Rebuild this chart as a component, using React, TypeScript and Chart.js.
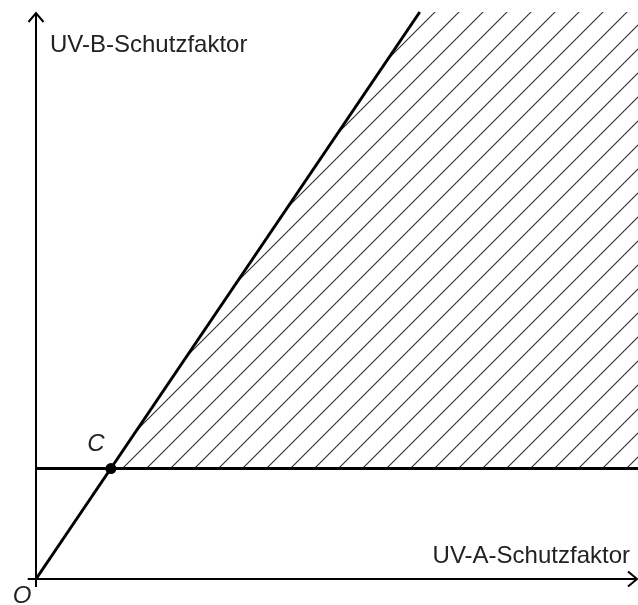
import React, { useEffect, useRef } from "react";
import { Chart, registerables } from "chart.js";

Chart.register(...registerables);

// Axis ranges (abstract units)
const xRange = [0, 8];
const yRange = [0, 7.7];

// Boundary line through origin and C
const diagonalX = [0, 5.1];
const diagonalY = [0, 7.7];

// Minimum UV-B protection line
const horizontalX = [0, 8];
const horizontalY = [1.5, 1.5];

// Point C
const pointCX = [0.995];
const pointCY = [1.5];

// Hatched (allowed) region outline, filled down to y = 1.5
const regionX = [0.995, 5.1, 8];
const regionY = [1.5, 7.7, 7.7];

const axisLabelX = "UV-A-Schutzfaktor";
const axisLabelY = "UV-B-Schutzfaktor";
const pointLabel = "C";
const originLabel = "O";

const zip = (xs: number[], ys: number[]) => xs.map((x, i) => ({ x, y: ys[i] }));

function makeHatch(): CanvasPattern | string {
  const c = document.createElement("canvas");
  c.width = 24;
  c.height = 24;
  const g = c.getContext("2d");
  if (!g) return "rgba(0,0,0,0.2)";
  g.strokeStyle = "#2a2a2a";
  g.lineWidth = 1.1;
  for (const k of [-9, 15, 39]) {
    g.beginPath();
    g.moveTo(k + 6, -6);
    g.lineTo(k - 30, 30);
    g.stroke();
  }
  const p = g.createPattern(c, "repeat");
  return p || "rgba(0,0,0,0.2)";
}

const decorPlugin = {
  id: "decor",
  beforeDatasetsDraw(chart: any) {
    const ctx = chart.ctx;
    const xs = chart.scales.x;
    const ys = chart.scales.y;
    const x0 = xs.getPixelForValue(0);
    const y0 = ys.getPixelForValue(0);
    const yTop = ys.getPixelForValue(yRange[1]) + 1;
    const xRight = xs.getPixelForValue(xRange[1]) - 1;
    ctx.save();
    ctx.strokeStyle = "#000";
    ctx.lineWidth = 2;
    ctx.lineCap = "butt";
    // y axis
    ctx.beginPath();
    ctx.moveTo(x0, ys.getPixelForValue(-0.11));
    ctx.lineTo(x0, yTop);
    ctx.stroke();
    ctx.beginPath();
    ctx.moveTo(x0 - 7.5, yTop + 9);
    ctx.lineTo(x0, yTop);
    ctx.lineTo(x0 + 7.5, yTop + 9);
    ctx.stroke();
    // x axis
    ctx.beginPath();
    ctx.moveTo(xs.getPixelForValue(-0.11), y0);
    ctx.lineTo(xRight, y0);
    ctx.stroke();
    ctx.beginPath();
    ctx.moveTo(xRight - 9, y0 - 7.5);
    ctx.lineTo(xRight, y0);
    ctx.lineTo(xRight - 9, y0 + 7.5);
    ctx.stroke();
    ctx.restore();
  },
  afterDraw(chart: any) {
    const ctx = chart.ctx;
    const xs = chart.scales.x;
    const ys = chart.scales.y;
    const x0 = xs.getPixelForValue(0);
    const y0 = ys.getPixelForValue(0);
    ctx.save();
    ctx.fillStyle = "#222";
    ctx.textBaseline = "alphabetic";
    ctx.font = "24px 'Liberation Sans', Arial, sans-serif";
    ctx.textAlign = "left";
    ctx.fillText(axisLabelY, x0 + 14, ys.getPixelForValue(yRange[1]) + 40);
    ctx.textAlign = "right";
    ctx.fillText(axisLabelX, xs.getPixelForValue(xRange[1]) - 8, y0 - 16);
    ctx.font = "italic 24px 'Liberation Sans', Arial, sans-serif";
    ctx.textAlign = "center";
    const cx = xs.getPixelForValue(pointCX[0]);
    const cy = ys.getPixelForValue(pointCY[0]);
    ctx.fillText(pointLabel, cx - 15, cy - 18);
    ctx.fillText(originLabel, x0 - 14, y0 + 24);
    ctx.restore();
  },
};

export default function App() {
  const ref = useRef<HTMLCanvasElement | null>(null);
  useEffect(() => {
    if (!ref.current) return;
    const hatch = makeHatch();
    const chart = new Chart(ref.current, {
      type: "line",
      data: {
        datasets: [
          {
            data: zip(regionX, regionY),
            borderWidth: 0,
            borderColor: "rgba(0,0,0,0)",
            backgroundColor: hatch as any,
            pointRadius: 0,
            fill: { value: 1.5 } as any,
            tension: 0,
            order: 3,
          },
          {
            data: zip(horizontalX, horizontalY),
            borderColor: "#000",
            borderWidth: 3,
            pointRadius: 0,
            fill: false,
            tension: 0,
            order: 2,
            clip: false as any,
          },
          {
            data: zip(diagonalX, diagonalY),
            borderColor: "#000",
            borderWidth: 3,
            pointRadius: 0,
            fill: false,
            tension: 0,
            order: 1,
            clip: false as any,
          },
          {
            data: zip(pointCX, pointCY),
            showLine: false,
            pointRadius: 5.5,
            pointBackgroundColor: "#000",
            pointBorderColor: "#000",
            pointBorderWidth: 0,
            order: 0,
            clip: false as any,
          },
        ],
      },
      options: {
        animation: false,
        responsive: false,
        events: [],
        layout: { autoPadding: false, padding: { left: 36, top: 12, right: 0, bottom: 26 } } as any,
        plugins: {
          legend: { display: false },
          tooltip: { enabled: false },
          title: { display: false },
        },
        scales: {
          x: { type: "linear", min: xRange[0], max: xRange[1], display: false },
          y: { type: "linear", min: yRange[0], max: yRange[1], display: false },
        },
      },
      plugins: [decorPlugin],
    });
    return () => chart.destroy();
  }, []);
  return (
    <div style={{ position: "absolute", left: 0, top: 0, width: 638, height: 605, background: "#fff" }}>
      <canvas ref={ref} width={638} height={605} style={{ display: "block" }} />
    </div>
  );
}
